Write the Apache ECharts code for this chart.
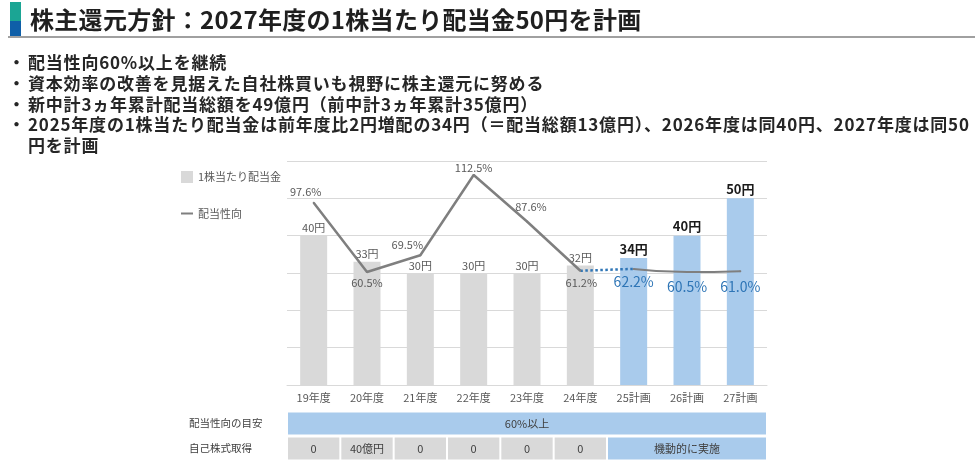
<!DOCTYPE html>
<html lang="ja">
<head>
<meta charset="UTF-8">
<title>株主還元方針</title>
<script src="https://cdn.jsdelivr.net/npm/echarts@6.0.0/dist/echarts.min.js"></script>
<style>
    html, body { margin: 0; padding: 0; background: #fff; }
    body {
        width: 978px; height: 461px; position: relative; overflow: hidden;
        font-family: "Noto Sans CJK JP", sans-serif; color: #262626;
    }
    #chart { position: absolute; left: 0; top: 0; width: 978px; height: 461px; }
    .title-mark {
        position: absolute; left: 10px; top: 2px; width: 11px; height: 34px;
        background: linear-gradient(#1ba594 0, #1ba594 56%, #0f5fa8 56%, #0f5fa8 100%);
    }
    .title {
        position: absolute; left: 30px; top: 2px; font-size: 24px; font-weight: bold;
        line-height: 34px; white-space: nowrap; color: #1f1f1f; letter-spacing: 0.3px;
    }
    .rule { position: absolute; left: 8px; width: 967px; top: 36px; height: 2px; background: #a0a0a0; }
    .bullets {
        position: absolute; left: 0; top: 52px; font-size: 17px; font-weight: bold;
        line-height: 20.8px; color: #262626; letter-spacing: 0.8px;
    }
    .bullets div { position: relative; padding-left: 28px; white-space: nowrap; }
    .bullets .dot { position: absolute; left: 8px; }
</style>
</head>
<body>
    <div id="chart"></div>

    <!--タイトル-->
    <div class="title-mark"></div>
    <div class="title">株主還元方針：2027年度の1株当たり配当金50円を計画</div>
    <div class="rule"></div>

    <!--方針-->
    <div class="bullets">
        <div><span class="dot">・</span>配当性向60%以上を継続</div>
        <div><span class="dot">・</span>資本効率の改善を見据えた自社株買いも視野に株主還元に努める</div>
        <div><span class="dot">・</span>新中計3ヵ年累計配当総額を49億円（前中計3ヵ年累計35億円）</div>
        <div><span class="dot">・</span>2025年度の1株当たり配当金は前年度比2円増配の34円（＝配当総額13億円）、2026年度は同40円、2027年度は同50<br>円を計画</div>
    </div>

    <script>
        // データ
        var categories = ['19年度', '20年度', '21年度', '22年度', '23年度', '24年度', '25計画', '26計画', '27計画'];
        var isPlan = [false, false, false, false, false, false, true, true, true];
        var dividend = [40, 33, 30, 30, 30, 32, 34, 40, 50];
        var payoutActual = [97.6, 60.5, 69.5, 112.5, 87.6, 61.2, null, null, null];
        var payoutBridge = [null, null, null, null, null, 61.2, 62.2, null, null];
        var payoutPlan = [null, null, null, null, null, null, 62.2, 60.5, 61.0];

        // 下の表: [開始, 終了, 行, 文字]
        var tableRows = ['配当性向の目安', '自己株式取得'];
        var targetCells = [[0, 8, 0, '60%以上']];
        var buybackCells = [
            [0, 0, 1, '0'], [1, 1, 1, '40億円'], [2, 2, 1, '0'], [3, 3, 1, '0'],
            [4, 4, 1, '0'], [5, 5, 1, '0'], [6, 8, 1, '機動的に実施']
        ];

        var FONT = '"Noto Sans CJK JP", sans-serif';
        var GRAY_BAR = '#d9d9d9';
        var BLUE_BAR = '#a9cbec';
        var tableCells = targetCells.concat(buybackCells);

        // 実績ラベルの位置
        var actualLabelPos = [
            { position: 'top', distance: 5, offset: [-8, 0] },
            { position: 'bottom', distance: 4, offset: [0, 0] },
            { position: 'top', distance: 4, offset: [-13, 0] },
            { position: 'top', distance: 1, offset: [0, 0] },
            { position: 'top', distance: 8, offset: [4, 0] },
            { position: 'bottom', distance: 6, offset: [1, 0] }
        ];
        var planLabelDist = [5, 7, 8];

        function renderCell(params, api) {
            var from = api.value(0), to = api.value(1), row = api.value(2);
            var p0 = api.coord([from, row]);
            var p1 = api.coord([to, row]);
            var bw = api.size([1, 0])[0];
            var h = 22;
            var blue = row === 0 || isPlan[from];
            return {
                type: 'rect',
                shape: { x: p0[0] - bw / 2 + 1, y: p0[1] - h / 2, width: p1[0] - p0[0] + bw - 2, height: h },
                style: { fill: blue ? BLUE_BAR : GRAY_BAR },
                textContent: {
                    style: { text: tableCells[params.dataIndex][3], fill: '#404040', fontSize: 11, fontFamily: FONT }
                },
                textConfig: { position: 'inside' }
            };
        }

        var chart = echarts.init(document.getElementById('chart'));
        chart.setOption({
            animation: false,
            textStyle: { fontFamily: FONT },
            legend: {
                orient: 'vertical',
                left: 175,
                top: 166,
                itemWidth: 12,
                itemHeight: 12,
                itemGap: 25,
                textStyle: { color: '#595959', fontSize: 11, fontFamily: FONT },
                data: [
                    { name: '1株当たり配当金', icon: 'rect' },
                    { name: '配当性向', itemStyle: { opacity: 0 } }
                ]
            },
            grid: [
                { left: 287, right: 211, top: 161, bottom: 76 },
                { left: 287, right: 211, top: 411, height: 50 }
            ],
            xAxis: [{
                type: 'category',
                gridIndex: 0,
                data: categories,
                axisLine: { lineStyle: { color: '#d9d9d9' } },
                axisTick: { show: false },
                axisLabel: { color: '#595959', fontSize: 11, margin: 7 }
            }, {
                type: 'category',
                gridIndex: 1,
                data: categories,
                show: false
            }],
            yAxis: [{
                type: 'value',
                gridIndex: 0,
                min: 0,
                max: 60,
                interval: 10,
                axisLabel: { show: false },
                axisLine: { show: false },
                axisTick: { show: false },
                splitLine: { lineStyle: { color: '#d9d9d9' } }
            }, {
                type: 'value',
                gridIndex: 0,
                min: 0,
                max: 120,
                show: false,
                splitLine: { show: false }
            }, {
                type: 'category',
                gridIndex: 1,
                data: tableRows,
                inverse: true,
                axisLine: { show: false },
                axisTick: { show: false },
                axisLabel: { color: '#404040', fontSize: 10.5, align: 'left', margin: 98 }
            }],
            series: [{
                name: '1株当たり配当金',
                type: 'bar',
                barWidth: 27,
                itemStyle: { color: GRAY_BAR },
                data: dividend.map(function (v, i) {
                    return {
                        value: v,
                        itemStyle: { color: isPlan[i] ? BLUE_BAR : GRAY_BAR },
                        label: isPlan[i]
                            ? { fontSize: 13, fontWeight: 'bold', color: '#1a1a1a', distance: 3 }
                            : { fontSize: 11, color: '#595959', distance: 2 }
                    };
                }),
                label: { show: true, position: 'top', formatter: '{c}円' }
            }, {
                name: '配当性向',
                type: 'line',
                yAxisIndex: 1,
                symbol: 'circle',
                symbolSize: 2,
                itemStyle: { color: '#7f7f7f' },
                lineStyle: { color: '#7f7f7f', width: 2.5 },
                data: payoutActual.map(function (v, i) {
                    return v === null ? null : { value: v, label: actualLabelPos[i] };
                }),
                label: { show: true, color: '#595959', fontSize: 11, formatter: '{c}%' },
                z: 3
            }, {
                name: '配当性向（移行）',
                type: 'line',
                yAxisIndex: 1,
                symbol: 'none',
                lineStyle: { color: '#2e75b6', width: 2.5, type: 'dotted' },
                data: payoutBridge,
                z: 3
            }, {
                name: '配当性向（計画）',
                type: 'line',
                yAxisIndex: 1,
                smooth: true,
                symbol: 'circle',
                symbolSize: 2,
                itemStyle: { color: '#7f7f7f' },
                lineStyle: { color: '#7f7f7f', width: 2 },
                data: payoutPlan.map(function (v, i) {
                    return v === null ? null : { value: v, label: { distance: planLabelDist[i - 6] } };
                }),
                label: {
                    show: true, position: 'bottom', color: '#2e75b6', fontSize: 14,
                    formatter: function (p) { return p.value.toFixed(1) + '%'; }
                },
                z: 4
            }, {
                name: '表',
                type: 'custom',
                xAxisIndex: 1,
                yAxisIndex: 2,
                renderItem: renderCell,
                encode: { x: [0, 1], y: 2 },
                data: tableCells.map(function (c) { return [c[0], c[1], c[2]]; }),
                silent: true
            }]
        });
    </script>
</body>
</html>
